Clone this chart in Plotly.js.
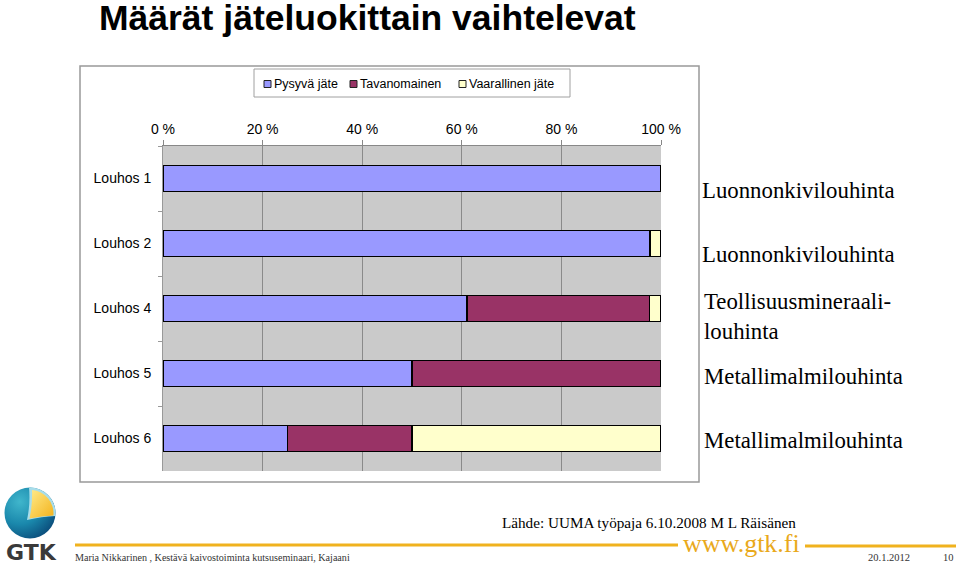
<!DOCTYPE html>
<html>
<head>
<meta charset="utf-8">
<script src="https://cdn.plot.ly/plotly-3.0.1.min.js"></script>
<style>html,body{margin:0;padding:0;background:#fff;}#chart{width:960px;height:564px;}</style>
</head>
<body>
<div id="chart"></div>
<script>
// ---- data ----
const categories = ['Louhos 1', 'Louhos 2', 'Louhos 4', 'Louhos 5', 'Louhos 6'];
const seriesNames = ['Pysyvä jäte', 'Tavanomainen', 'Vaarallinen jäte'];
const pysyva = [100, 97.8, 61, 50, 25];
const tavanomainen = [0, 0, 36.7, 50, 25];
const vaarallinen = [0, 2.2, 2.3, 0, 50];
const tickValues = [0, 20, 40, 60, 80, 100];
const mineTypes = ['Luonnonkivilouhinta', 'Luonnonkivilouhinta', 'Teollisuusmineraali-<br>louhinta', 'Metallimalmilouhinta', 'Metallimalmilouhinta'];
const titleText = 'Määrät jäteluokittain vaihtelevat';
const sourceText = 'Lähde: UUMA työpaja 6.10.2008 M L Räisänen';
const footerText = 'Maria Nikkarinen , Kestävä kaivostoiminta kutsuseminaari, Kajaani';
const dateText = '20.1.2012';
const pageText = '10';

// ---- layout helpers (pixel -> paper) ----
const L = 163, R = 661, T = 146, B = 471;
const px = x => (x - L) / (R - L);
const py = y => (B - y) / (B - T);

const colors = ['#9999FF', '#993366', '#FFFFCC'];
const values = [pysyva, tavanomainen, vaarallinen];

const traces = values.map((v, i) => ({
  type: 'bar',
  orientation: 'h',
  name: seriesNames[i],
  y: categories,
  x: v,
  marker: {color: colors[i], line: {color: '#000000', width: 1.5}},
  hoverinfo: 'skip',
  showlegend: false
}));

const logoSvg = "<svg xmlns='http://www.w3.org/2000/svg' width='52' height='52' viewBox='0 0 52 52'>" +
  "<defs><radialGradient id='g' cx='30%' cy='28%' r='80%'><stop offset='0' stop-color='#40B6CC'/><stop offset='0.55' stop-color='#1A88AC'/><stop offset='1' stop-color='#0B4E7C'/></radialGradient>" +
  "<linearGradient id='y' x1='0' y1='0' x2='1' y2='1'><stop offset='0' stop-color='#FFEB8A'/><stop offset='1' stop-color='#F3B21B'/></linearGradient></defs>" +
  "<circle cx='26' cy='26' r='25.5' fill='url(#g)'/>" +
  "<path d='M25 0.6 A25.5 25.5 0 0 1 51.4 29 Q38 29.5 23 33 Q26.5 17 25 0.6 Z' fill='#A8DDEA'/>" +
  "<path d='M28 3 A23.5 23.5 0 0 1 49.4 28.6 Q38 29 25.5 31.5 Q28.5 18 28 3 Z' fill='url(#y)'/>" +
  "</svg>";

const serif = 'Liberation Serif, Times New Roman, serif';
const sans = 'Liberation Sans, Arial, sans-serif';

const annotations = [];
const shapes = [];

// compact legend, like the original
const legSquareX = [264, 350, 459];
const legTextX = [273, 359, 468];
const legY = 84;
seriesNames.forEach((n, i) => {
  shapes.push({type: 'rect', xref: 'paper', yref: 'paper',
    x0: px(legSquareX[i]), x1: px(legSquareX[i] + 7), y0: py(legY + 3.5), y1: py(legY - 3.5),
    fillcolor: colors[i], line: {color: '#222', width: 1}});
  annotations.push({xref: 'paper', yref: 'paper', x: px(legTextX[i]), y: py(legY), xanchor: 'left', yanchor: 'middle',
    showarrow: false, borderpad: 0, text: n, font: {family: sans, size: 12.5, color: '#000'}});
});
shapes.push({type: 'rect', xref: 'paper', yref: 'paper', x0: px(254), x1: px(570), y0: py(97), y1: py(69),
  line: {color: '#A0A0A0', width: 1}, fillcolor: 'rgba(0,0,0,0)'});

const annY = [190, 254, 316, 376, 440];
mineTypes.forEach((t, i) => {
  annotations.push({
    xref: 'paper', yref: 'paper', x: px(i >= 2 ? 703 : 701), y: py(annY[i]),
    xanchor: 'left', yanchor: 'middle', align: 'left', showarrow: false, borderpad: 0,
    text: t, font: {family: serif, size: 22.8, color: '#000'}
  });
});
annotations.push(
  {xref: 'paper', yref: 'paper', x: px(501), y: py(522), xanchor: 'left', yanchor: 'middle', showarrow: false, borderpad: 0,
   text: sourceText, font: {family: serif, size: 15.2, color: '#000'}},
  {xref: 'paper', yref: 'paper', x: px(741), y: py(543), xanchor: 'center', yanchor: 'middle', showarrow: false,
   text: 'www.gtk.fi', font: {family: serif, size: 26, color: '#E9A91B'}},
  {xref: 'paper', yref: 'paper', x: px(74), y: py(557), xanchor: 'left', yanchor: 'middle', showarrow: false, borderpad: 0,
   text: footerText, font: {family: serif, size: 10.1, color: '#333'}},
  {xref: 'paper', yref: 'paper', x: px(867), y: py(557), xanchor: 'left', yanchor: 'middle', showarrow: false, borderpad: 0,
   text: dateText, font: {family: serif, size: 10.5, color: '#333'}},
  {xref: 'paper', yref: 'paper', x: px(942), y: py(557), xanchor: 'left', yanchor: 'middle', showarrow: false, borderpad: 0,
   text: pageText, font: {family: serif, size: 10.5, color: '#333'}},
  {xref: 'paper', yref: 'paper', x: px(31), y: py(552), xanchor: 'center', yanchor: 'middle', showarrow: false,
   text: '<b>GTK</b>', font: {family: 'DejaVu Sans, ' + sans, size: 22, color: '#3a3a3a'}}
);

shapes.push(
  {type: 'rect', xref: 'paper', yref: 'paper', x0: px(80), x1: px(699), y0: py(482), y1: py(66),
   line: {color: '#999999', width: 1.5}, fillcolor: 'rgba(0,0,0,0)', layer: 'below'},
  {type: 'line', xref: 'paper', yref: 'paper', x0: px(75), x1: px(678), y0: py(545), y1: py(545),
   line: {color: '#F0B21E', width: 3}},
  {type: 'line', xref: 'paper', yref: 'paper', x0: px(805), x1: px(956), y0: py(546), y1: py(546),
   line: {color: '#F0B21E', width: 3}}
);

const layout = {
  width: 960, height: 564,
  margin: {l: L, r: 960 - R, t: T, b: 564 - B, pad: 0},
  paper_bgcolor: '#ffffff',
  plot_bgcolor: '#CACACA',
  barmode: 'stack',
  bargap: 0.6,
  showlegend: false,
  title: {
    text: '<b>' + titleText + '</b>',
    xref: 'container', yref: 'container', x: 99 / 960, xanchor: 'left',
    y: 1 - 5 / 564, yanchor: 'top', pad: {t: 0, b: 0, l: 0, r: 0},
    font: {family: sans, size: 35.5, color: '#000'}
  },
  xaxis: {
    side: 'top', range: [0, 100], tickvals: tickValues, ticktext: tickValues.map(v => v + ' %'),
    ticks: 'outside', ticklen: 5, tickcolor: '#888', showgrid: true, gridcolor: '#8A8A8A', gridwidth: 1,
    showline: true, linecolor: '#888', linewidth: 1, zeroline: false, fixedrange: true,
    tickfont: {family: sans, size: 14, color: '#000'}
  },
  yaxis: {
    type: 'category', categoryorder: 'array', categoryarray: categories, autorange: 'reversed',
    ticks: 'outside', tickson: 'boundaries', ticklen: 4, tickcolor: '#999', showgrid: false,
    showline: true, linecolor: '#999', linewidth: 1, zeroline: false, fixedrange: true,
    tickfont: {family: sans, size: 14, color: '#000'}, ticklabelstandoff: 8
  },
  annotations: annotations,
  shapes: shapes,
  images: [{
    source: 'data:image/svg+xml;charset=utf-8,' + encodeURIComponent(logoSvg),
    xref: 'paper', yref: 'paper', x: px(4), y: py(487), sizex: 52 / (R - L), sizey: 52 / (B - T),
    sizing: 'stretch', xanchor: 'left', yanchor: 'top', layer: 'above'
  }]
};

Plotly.newPlot('chart', traces, layout, {staticPlot: true, displayModeBar: false});
</script>
</body>
</html>
